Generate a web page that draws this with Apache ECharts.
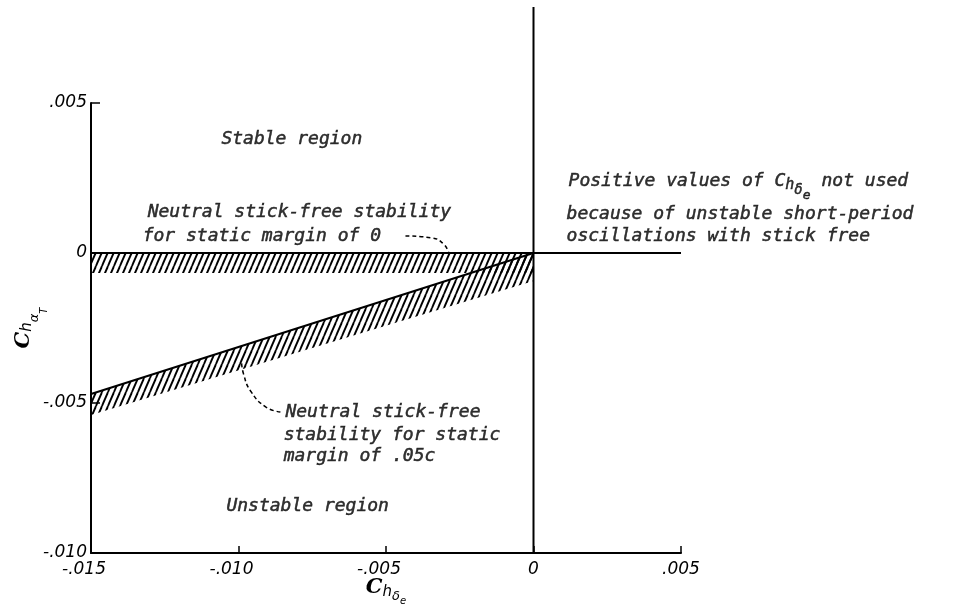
<!DOCTYPE html>
<html><head><meta charset="utf-8">
<script src="https://cdn.jsdelivr.net/npm/echarts@6/dist/echarts.min.js"></script>
<style>html,body{margin:0;padding:0;background:#fff}#c{width:967px;height:609px}</style>
</head><body><div id="c"></div>
<script>
// ---- data ----
const xTicks = [-0.015, -0.010, -0.005, 0, 0.005];
const xTickLabels = ['-.015', '-.010', '-.005', '0', '.005'];
const yTicks = [-0.010, -0.005, 0, 0.005];
const yTickLabels = ['-.010', '-.005', '0', '.005'];

// neutral stick-free stability, static margin 0
const marginZeroLine = [[-0.015, 0], [0.005, 0]];
const marginZeroHatch = [[-0.015, 0], [0, 0], [0, -0.00067], [-0.015, -0.00067]];
// neutral stick-free stability, static margin .05c
const marginFiveLine = [[-0.015, -0.0047], [0, 0]];
const marginFiveHatch = [[-0.015, -0.0047], [0, 0], [0, -0.00093], [-0.015, -0.0054]];
// Ch_delta_e = 0 boundary
const zeroBoundary = [[0, -0.010], [0, 0.0082]];

// leader curves
const leaderZero = [[-0.00434, 0.00057], [-0.00342, 0.0005], [-0.00305, 0.0003], [-0.00288, 0.00003]];
const leaderFive = [[-0.00858, -0.0053], [-0.00908, -0.00513], [-0.00959, -0.0046], [-0.00983, -0.00403], [-0.0099, -0.0036]];

// annotations: [text, x, y]
const notes = [
  ['Stable region', -0.01058, 0.0038],
  ['Neutral stick-free stability', -0.01308, 0.00137],
  ['for static margin of 0', -0.01325, 0.00057],
  ['because of unstable short-period', 0.00112, 0.0013],
  ['oscillations with stick free', 0.00112, 0.00057],
  ['Neutral stick-free', -0.00841, -0.0053],
  ['stability for static', -0.00847, -0.00607],
  ['margin of .05c', -0.00847, -0.00677],
  ['Unstable region', -0.01041, -0.00843]
];
const positiveNote = ['Positive values of C', 'h', 'δ', 'e', ' not used', 0.00119, 0.0024];

// ---- chart ----
const chart = echarts.init(document.getElementById('c'));

function makeHatch() {
  const w = 6, h = 14;
  const c = document.createElement('canvas');
  c.width = w; c.height = h;
  const g = c.getContext('2d');
  g.strokeStyle = '#000'; g.lineWidth = 1.9;
  for (const off of [-w, 0, w]) {
    g.beginPath(); g.moveTo(off, h); g.lineTo(off + w, 0); g.stroke();
  }
  return c;
}
const hatch = { image: makeHatch(), repeat: 'repeat' };

const noteFont = { fontFamily: 'DejaVu Sans Mono', fontStyle: 'italic', fontSize: 18, color: '#000', textBorderColor: '#000', textBorderWidth: 0.5 };
const tickFont = { fontFamily: 'DejaVu Sans', fontStyle: 'italic', fontSize: 17, color: '#000' };

function tickFmt(ticks, labels) {
  return function (v) {
    const i = ticks.findIndex(t => Math.abs(t - v) < 1e-9);
    if (i < 0) return '';
    const s = labels[i];
    return s.charAt(0) === '-' ? '{n|' + s + '}' : '{p|' + s + '}';
  };
}

function hatchSeries(poly) {
  return {
    type: 'custom', silent: true, animation: false,
    data: [poly[0]],
    renderItem: function (params, api) {
      return { type: 'polygon', shape: { points: poly.map(p => api.coord(p)) }, style: { fill: hatch, stroke: null } };
    },
    z: 1
  };
}
function lineSeries(data, opts) {
  return Object.assign({
    type: 'line', data: data, showSymbol: false, symbol: 'none', silent: true, animation: false,
    lineStyle: { color: '#000', width: 2 }, z: 3
  }, opts || {});
}

const noteData = notes.map(n => ({
  value: [n[1], n[2]],
  label: Object.assign({ show: true, position: 'right', distance: 0, formatter: n[0] }, noteFont)
}));
noteData.push({
  value: [positiveNote[5], positiveNote[6]],
  label: {
    show: true, position: 'right', distance: 0,
    formatter: '{t|' + positiveNote[0] + '}{h|' + positiveNote[1] + '}{d|' + positiveNote[2] + '}{e|' + positiveNote[3] + '}{t|' + positiveNote[4] + '}',
    rich: {
      t: Object.assign({}, noteFont, { verticalAlign: 'middle', lineHeight: 24 }),
      h: Object.assign({}, noteFont, { fontSize: 15, verticalAlign: 'middle', padding: [8, 0, 0, 0] }),
      d: Object.assign({}, noteFont, { fontSize: 14, verticalAlign: 'middle', padding: [18, 0, 0, 0] }),
      e: Object.assign({}, noteFont, { fontSize: 13, verticalAlign: 'middle', padding: [30, 0, 0, 0] })
    }
  }
});

const titleRich = function (sub1, sub2, p1, p2, p3) {
  const r = {
    C: { fontFamily: 'DejaVu Serif', fontStyle: 'italic', fontWeight: 'bold', fontSize: 21, color: '#000', verticalAlign: 'middle' },
    h: { fontFamily: 'DejaVu Sans', fontStyle: 'italic', fontSize: 15, color: '#000', verticalAlign: 'middle', padding: [p1, 0, 0, 0] }
  };
  r[sub1] = { fontFamily: 'DejaVu Sans', fontStyle: 'italic', fontSize: 13, color: '#000', verticalAlign: 'middle', padding: [p2, 0, 0, 0] };
  r[sub2] = { fontFamily: 'DejaVu Sans', fontStyle: 'italic', fontSize: 10, color: '#000', verticalAlign: 'middle', padding: [p3, 0, 0, 0] };
  return r;
};

const option = {
  animation: false,
  backgroundColor: '#fff',
  grid: { left: 91, right: 286, top: 103, bottom: 56, containLabel: false, outerBoundsMode: 'none' },
  xAxis: {
    type: 'value', min: -0.015, max: 0.005, interval: 0.005,
    axisLine: { show: true, onZero: false, lineStyle: { color: '#000', width: 2 } },
    axisTick: { show: true, inside: true, length: 7, lineStyle: { color: '#000', width: 1.5 } },
    splitLine: { show: false },
    axisLabel: {
      margin: 8, formatter: tickFmt(xTicks, xTickLabels),
      rich: { n: Object.assign({}, tickFont, { padding: [0, 14, 0, 0] }), p: Object.assign({}, tickFont) }
    },
    name: '{C|C}{h|h}{d|δ}{e|e}', nameLocation: 'middle', nameGap: 17, nameMoveOverlap: false,
    nameTextStyle: { rich: titleRich('d', 'e', 8, 18, 26) }
  },
  yAxis: {
    type: 'value', min: -0.010, max: 0.005, interval: 0.005,
    axisLine: { show: true, onZero: false, lineStyle: { color: '#000', width: 2 } },
    axisTick: { show: true, inside: true, length: 9, lineStyle: { color: '#000', width: 1.5 } },
    splitLine: { show: false },
    axisLabel: {
      margin: 4, formatter: tickFmt(yTicks, yTickLabels),
      rich: { n: Object.assign({}, tickFont), p: Object.assign({}, tickFont) }
    },
    name: '{C|C}{h|h}{a|α}{T|T}', nameLocation: 'middle', nameGap: 42, nameRotate: 90, nameMoveOverlap: false,
    nameTextStyle: { rich: titleRich('a', 'T', 6, 22, 40) }
  },
  series: [
    hatchSeries(marginZeroHatch),
    hatchSeries(marginFiveHatch),
    lineSeries(marginZeroLine),
    lineSeries(marginFiveLine),
    lineSeries(zeroBoundary, { clip: false }),
    lineSeries(leaderZero, { smooth: true, lineStyle: { color: '#000', width: 1.5, type: [4, 3] } }),
    lineSeries(leaderFive, { smooth: true, lineStyle: { color: '#000', width: 1.5, type: [4, 3] } }),
    { type: 'scatter', symbolSize: 0, silent: true, animation: false, data: noteData, z: 5 }
  ]
};
chart.setOption(option);
</script>
</body></html>
